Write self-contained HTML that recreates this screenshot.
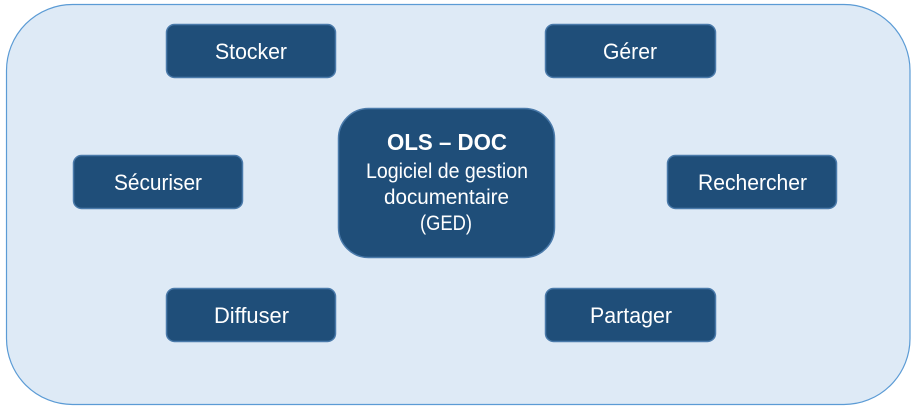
<!DOCTYPE html>
<html><head><meta charset="utf-8"><style>
html,body{margin:0;padding:0;background:#fff;}
svg{display:block;}
text{font-family:"Liberation Sans",Arial,sans-serif;fill:#fff;}
</style></head><body>
<svg width="916" height="411" viewBox="0 0 916 411" xmlns="http://www.w3.org/2000/svg">
<rect x="6.5" y="4.5" width="903.5" height="400" rx="66" ry="66" fill="#DEEAF6" stroke="#5B9BD5" stroke-width="1.2"/>
<g fill="#1F4E79" stroke="#4A7AAA" stroke-width="1.5">
<rect x="166.5" y="24.5" width="169" height="53" rx="8"/>
<rect x="545.5" y="24.5" width="170" height="53" rx="8"/>
<rect x="73.5" y="155.5" width="169" height="53" rx="8"/>
<rect x="667.5" y="155.5" width="169" height="53" rx="8"/>
<rect x="166.5" y="288.5" width="169" height="53" rx="8"/>
<rect x="545.5" y="288.5" width="170" height="53" rx="8"/>
<rect x="338.5" y="108.5" width="216" height="149" rx="30"/>
</g>
<g font-size="22" text-anchor="middle">
<text x="251" y="59" textLength="72" lengthAdjust="spacingAndGlyphs">Stocker</text>
<text x="630" y="59" textLength="54" lengthAdjust="spacingAndGlyphs">Gérer</text>
<text x="158" y="190" textLength="88" lengthAdjust="spacingAndGlyphs">Sécuriser</text>
<text x="752.5" y="190" textLength="109" lengthAdjust="spacingAndGlyphs">Rechercher</text>
<text x="251.5" y="323" textLength="75" lengthAdjust="spacingAndGlyphs">Diffuser</text>
<text x="631" y="323" textLength="82" lengthAdjust="spacingAndGlyphs">Partager</text>
</g>
<text x="447" y="150" font-size="23" font-weight="bold" text-anchor="middle" textLength="120" lengthAdjust="spacingAndGlyphs">OLS – DOC</text>
<g font-size="21" text-anchor="middle">
<text x="447" y="178" textLength="162" lengthAdjust="spacingAndGlyphs">Logiciel de gestion</text>
<text x="446.5" y="204" textLength="125" lengthAdjust="spacingAndGlyphs">documentaire</text>
<text x="446" y="230" textLength="52" lengthAdjust="spacingAndGlyphs">(GED)</text>
</g>
</svg>
</body></html>
